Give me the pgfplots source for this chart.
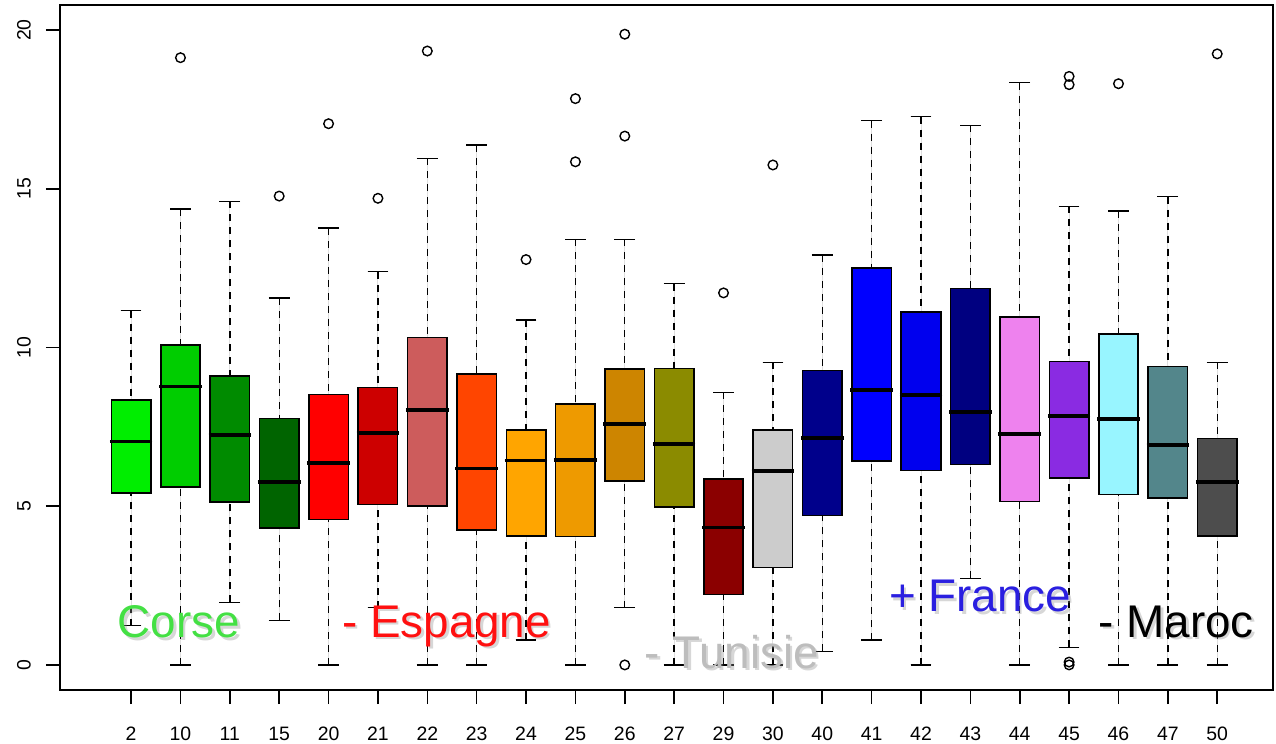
\documentclass[border=0pt]{standalone}
\usepackage{pgfplots}
\pgfplotsset{compat=1.18}
\usepgfplotslibrary{statistics}
\usepackage{fontspec}
\setmainfont{Liberation Sans}
\definecolor{c1}{HTML}{00EE00}
\definecolor{c2}{HTML}{00CD00}
\definecolor{c3}{HTML}{008B00}
\definecolor{c4}{HTML}{006400}
\definecolor{c5}{HTML}{FF0000}
\definecolor{c6}{HTML}{CD0000}
\definecolor{c7}{HTML}{CD5C5C}
\definecolor{c8}{HTML}{FF4500}
\definecolor{c9}{HTML}{FFA500}
\definecolor{c10}{HTML}{EE9A00}
\definecolor{c11}{HTML}{CD8500}
\definecolor{c12}{HTML}{8B8B00}
\definecolor{c13}{HTML}{8B0000}
\definecolor{c14}{HTML}{CCCCCC}
\definecolor{c15}{HTML}{00008B}
\definecolor{c16}{HTML}{0000FF}
\definecolor{c17}{HTML}{0000EE}
\definecolor{c18}{HTML}{000080}
\definecolor{c19}{HTML}{EE82EE}
\definecolor{c20}{HTML}{8A2BE2}
\definecolor{c21}{HTML}{98F5FF}
\definecolor{c22}{HTML}{53868B}
\definecolor{c23}{HTML}{4D4D4D}
\definecolor{corse}{HTML}{44E044}
\definecolor{espagne}{HTML}{FF1010}
\definecolor{tunisie}{HTML}{BDBDBD}
\definecolor{france}{HTML}{2A1FE0}
% pos, colour, lower whisker, q1, median, q3, upper whisker, outliers
\newcommand{\bp}[8]{%
\addplot[boxplot prepared={draw position=#1, lower whisker=#3, lower quartile=#4, median=#5, upper quartile=#6, upper whisker=#7}, fill=#2, draw=black, mark=o] coordinates {#8};
}
\newcommand{\lab}[4]{% x, y, colour, text
\node[anchor=base, text=black!45, opacity=0.35, inner sep=0pt, font=\fontsize{46}{50}\selectfont] at ([xshift=2.5bp,yshift=-2.5bp]axis cs:#1,#2) {#4};
\node[anchor=base, text=#3, inner sep=0pt, font=\fontsize{46}{50}\selectfont] at (axis cs:#1,#2) {#4};
}
\begin{document}
\begin{tikzpicture}
\useasboundingbox (-60bp,-54bp) rectangle (1216bp,690bp);
\begin{axis}[
  at={(0,0)}, anchor=south west,
  width=1213bp, height=685bp, scale only axis,
  xmin=-0.44, xmax=24.13, ymin=-0.79, ymax=20.79,
  xtick={1,...,23},
  xticklabels={2,10,11,15,20,21,22,23,24,25,26,27,29,30,40,41,42,43,44,45,46,47,50},
  ytick={0,5,10,15,20},
  yticklabels={0,5,10,15,20},
  xtick pos=left, ytick pos=left,
  tick align=outside, major tick length=14bp,
  every tick/.style={black, line width=1.6bp},
  axis line style={line width=1.5bp},
  ticklabel style={font=\fontsize{19.5}{21}\selectfont},
  yticklabel style={rotate=90, anchor=south, inner sep=0pt, yshift=15bp},
  xticklabel style={anchor=north, inner sep=0pt, yshift=-23bp},
  clip=false,
  boxplot/draw direction=y,
  boxplot/box extend=0.8,
  boxplot/whisker extend=0.42,
  boxplot/every box/.style={draw=black, line width=1.6bp},
  boxplot/draw/lower whisker/.code={%
    \draw[black, line width=1.4bp, dash pattern=on 7bp off 6bp]
      (boxplot box cs:\pgfplotsboxplotvalue{lower whisker},0.5) --
      (boxplot box cs:\pgfplotsboxplotvalue{lower quartile},0.5);
    \draw[black, line width=1.4bp]
      (boxplot whisker cs:\pgfplotsboxplotvalue{lower whisker},0) --
      (boxplot whisker cs:\pgfplotsboxplotvalue{lower whisker},1);
  },
  boxplot/draw/upper whisker/.code={%
    \draw[black, line width=1.4bp, dash pattern=on 7bp off 6bp]
      (boxplot box cs:\pgfplotsboxplotvalue{upper whisker},0.5) --
      (boxplot box cs:\pgfplotsboxplotvalue{upper quartile},0.5);
    \draw[black, line width=1.4bp]
      (boxplot whisker cs:\pgfplotsboxplotvalue{upper whisker},0) --
      (boxplot whisker cs:\pgfplotsboxplotvalue{upper whisker},1);
  },
  boxplot/draw/median/.code={%
    \draw[black, line width=3.8bp]
      (boxplot box cs:\pgfplotsboxplotvalue{median},-0.04) --
      (boxplot box cs:\pgfplotsboxplotvalue{median},1.04);
  },
  mark options={solid, draw=black, fill=none, line width=1.4bp},
  mark size=4.8bp,
]
\bp{1}{c1}{1.24}{5.41}{7.04}{8.35}{11.16}{}
\bp{2}{c2}{0}{5.61}{8.77}{10.07}{14.36}{(0,19.13)}
\bp{3}{c3}{1.97}{5.13}{7.25}{9.10}{14.60}{}
\bp{4}{c4}{1.40}{4.31}{5.77}{7.76}{11.56}{(0,14.77)}
\bp{5}{c5}{0}{4.58}{6.37}{8.52}{13.77}{(0,17.05)}
\bp{6}{c6}{1.80}{5.06}{7.31}{8.74}{12.39}{(0,14.70)}
\bp{7}{c7}{0}{5.01}{8.02}{10.31}{15.96}{(0,19.34)}
\bp{8}{c8}{0}{4.25}{6.19}{9.16}{16.38}{}
\bp{9}{c9}{0.79}{4.07}{6.44}{7.41}{10.86}{(0,12.77)}
\bp{10}{c10}{0}{4.04}{6.46}{8.22}{13.41}{(0,17.84) (0,15.85)}
\bp{11}{c11}{1.80}{5.79}{7.59}{9.32}{13.41}{(0,19.87) (0,16.66) (0,0)}
\bp{12}{c12}{0}{4.98}{6.96}{9.34}{12.01}{}
\bp{13}{c13}{0}{2.22}{4.33}{5.86}{8.59}{(0,11.72)}
\bp{14}{c14}{0}{3.07}{6.11}{7.41}{9.53}{(0,15.75)}
\bp{15}{c15}{0.43}{4.71}{7.14}{9.28}{12.92}{}
\bp{16}{c16}{0.79}{6.43}{8.65}{12.51}{17.15}{}
\bp{17}{c17}{0}{6.13}{8.50}{11.11}{17.27}{}
\bp{18}{c18}{2.73}{6.31}{7.96}{11.86}{17.00}{}
\bp{19}{c19}{0}{5.15}{7.28}{10.96}{18.34}{}
\bp{20}{c20}{0.55}{5.88}{7.83}{9.56}{14.45}{(0,18.54) (0,18.28) (0,0.09) (0,0)}
\bp{21}{c21}{0}{5.37}{7.76}{10.43}{14.30}{(0,18.31)}
\bp{22}{c22}{0}{5.26}{6.94}{9.40}{14.75}{}
\bp{23}{c23}{0}{4.06}{5.76}{7.13}{9.53}{(0,19.25)}
\lab{1.97}{0.85}{corse}{Corse}
\lab{7.39}{0.87}{espagne}{- Espagne}
\lab{13.17}{-0.10}{tunisie}{- Tunisie}
\lab{18.20}{1.67}{france}{+ France}
\lab{22.17}{0.87}{black}{- Maroc}
\end{axis}
\end{tikzpicture}
\end{document}
